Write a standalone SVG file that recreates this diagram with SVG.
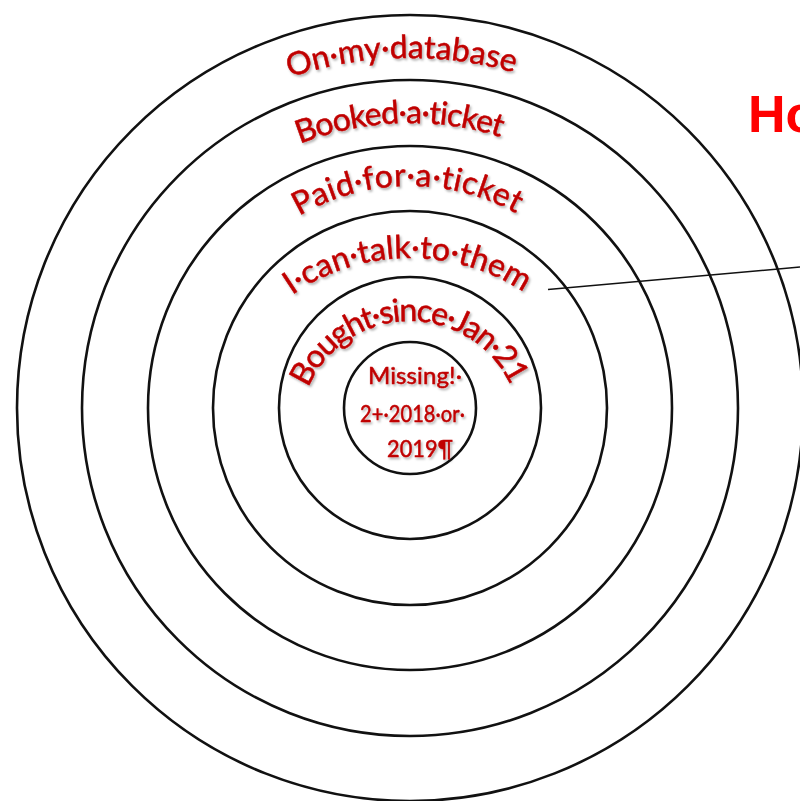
<svg xmlns="http://www.w3.org/2000/svg" width="800" height="801" viewBox="0 0 800 801">
  <style>
    .ring { fill: none; stroke: #111; stroke-width: 2.6; }
    .lbl, .core { font-family: Lato, "Open Sans", "Liberation Sans", sans-serif; fill: #C00000; stroke: #C00000; stroke-width: 0.5; filter: url(#shadow); font-variant-ligatures: none; font-feature-settings: "liga" 0, "clig" 0, "dlig" 0, "calt" 0; letter-spacing: 0.1px; }
    .lbl { font-size: 32px; }
    .core { font-size: 23px; }
    .title { font-family: "Liberation Sans", Arial, sans-serif; font-weight: bold; font-size: 52px; fill: #FF0000; }
    .leader { stroke: #111; stroke-width: 1.5; fill: none; }
  </style>
  <defs>
    <filter id="shadow" x="-10%" y="-20%" width="120%" height="150%">
      <feDropShadow dx="1.5" dy="2" stdDeviation="1.2" flood-color="#000" flood-opacity="0.3"/>
    </filter>
    <!-- baseline arcs for the ring captions (upper half circles, left to right) -->
    <path id="arc1" d="M 30,438 A 380,380 0 0 1 790,438"/>
    <path id="arc2" d="M 110,423 A 300,300 0 0 1 710,423"/>
    <path id="arc3" d="M 190,406 A 220,220 0 0 1 630,406"/>
    <path id="arc4" d="M 203,465 A 207,207 0 0 1 617,465"/>
    <path id="arc5" d="M 299,432 A 111,111 0 0 1 521,432"/>
  </defs>

  <rect width="800" height="801" fill="#fff"/>

  <g id="ring-database">
    <circle class="ring" cx="410" cy="408" r="393"/>
    <text class="lbl"><textPath href="#arc1" startOffset="49.3%" text-anchor="middle" textLength="228" lengthAdjust="spacing">On·my·database</textPath></text>
  </g>
  <g id="ring-booked">
    <circle class="ring" cx="410" cy="408" r="328"/>
    <text class="lbl"><textPath href="#arc2" startOffset="48.9%" text-anchor="middle" textLength="205" lengthAdjust="spacing">Booked·a·ticket</textPath></text>
  </g>
  <g id="ring-paid">
    <circle class="ring" cx="410" cy="408" r="262"/>
    <text class="lbl"><textPath href="#arc3" startOffset="49.6%" text-anchor="middle" textLength="227" lengthAdjust="spacing">Paid·for·a·ticket</textPath></text>
  </g>
  <g id="ring-contact">
    <circle class="ring" cx="410" cy="408" r="197"/>
    <text class="lbl"><textPath href="#arc4" startOffset="49.6%" text-anchor="middle" textLength="246" lengthAdjust="spacing">I·can·talk·to·them</textPath></text>
  </g>
  <g id="ring-recent">
    <circle class="ring" cx="410" cy="408" r="131"/>
    <text class="lbl"><textPath href="#arc5" startOffset="49.6%" text-anchor="middle" textLength="255" lengthAdjust="spacing">Bought·since·Jan·21</textPath></text>
  </g>
  <g id="ring-missing">
    <circle class="ring" cx="410" cy="408" r="66"/>
    <text class="core" x="368" y="384" textLength="94" lengthAdjust="spacingAndGlyphs">Missing!·</text>
    <text class="core" x="360" y="422" textLength="105" lengthAdjust="spacingAndGlyphs">2+·2018·or·</text>
    <text class="core" x="387" y="457" textLength="66" lengthAdjust="spacingAndGlyphs">2019¶</text>
  </g>

  <g id="connectors">
    <line class="leader" x1="548" y1="289.5" x2="800" y2="267"/>
  </g>

  <g id="heading">
    <text class="title" x="748" y="132">Ho</text>
  </g>
</svg>
